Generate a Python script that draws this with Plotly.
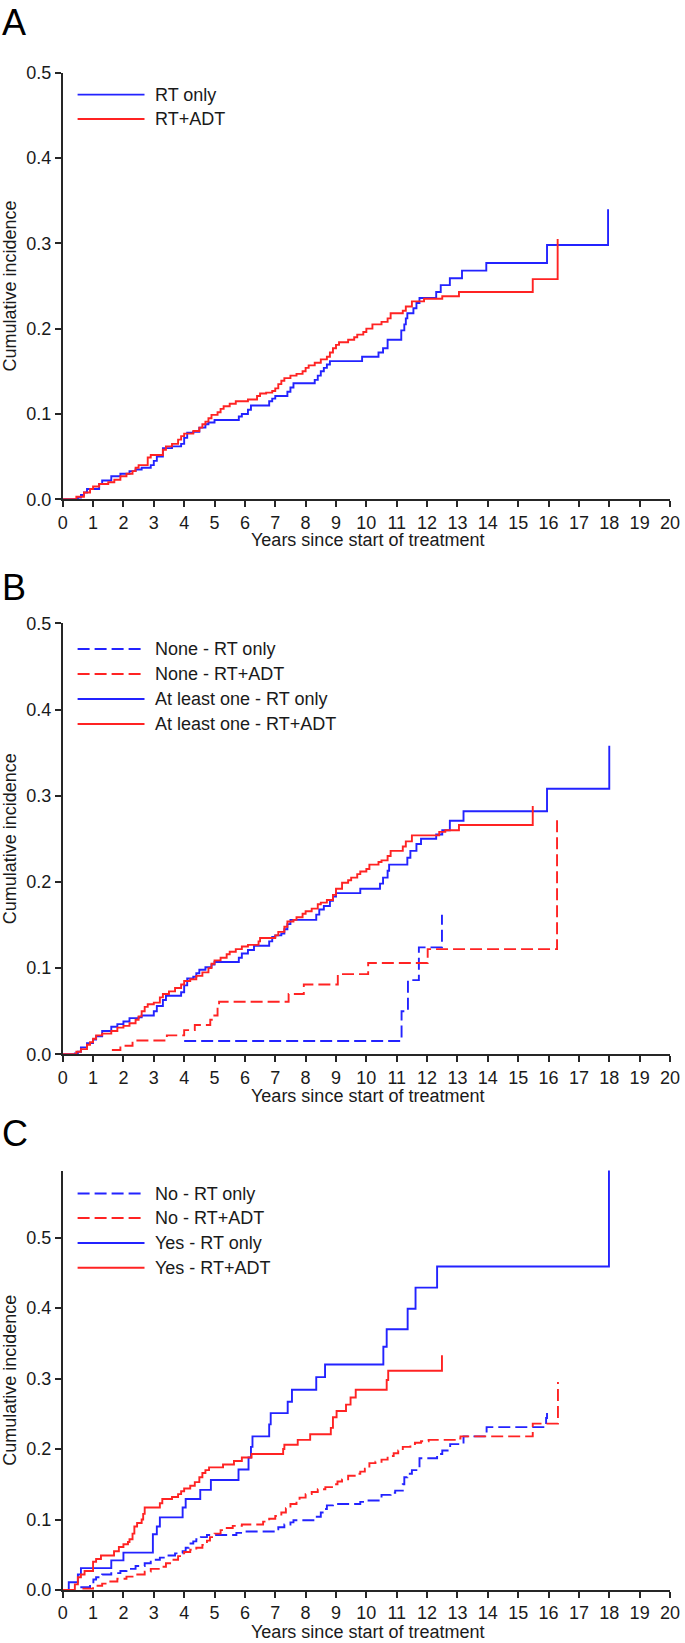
import plotly.graph_objects as go

# ---------------- data ----------------
x_ticks = list(range(0, 21))
y_ticks_ab = [0.0, 0.1, 0.2, 0.3, 0.4, 0.5]
y_ticks_c = [0.0, 0.1, 0.2, 0.3, 0.4, 0.5]

# Panel A
a_rt_x = [0, 0.5, 0.6, 0.7, 0.8, 1.2, 1.3, 1.6, 1.9, 2.2, 2.4, 2.6, 2.9, 3.0, 3.1, 3.3, 3.6, 3.9, 4.0, 4.1,
          4.3, 4.5, 4.7, 4.8, 5.0, 5.8, 5.9, 6.1, 6.2, 6.8, 6.9, 7.0, 7.4, 7.5, 7.6, 8.3, 8.4, 8.5, 8.6, 8.7,
          8.8, 9.86, 10.4, 10.55, 10.7, 11.15, 11.25, 11.3, 11.35, 11.55, 11.65, 11.75, 12.3, 12.45, 12.75,
          13.15, 13.95, 15.95, 17.96]
a_rt_y = [0, 0.002, 0.005, 0.008, 0.012, 0.018, 0.022, 0.027, 0.030, 0.033, 0.035, 0.037, 0.040, 0.045, 0.050,
          0.060, 0.062, 0.065, 0.072, 0.078, 0.079, 0.084, 0.088, 0.090, 0.093, 0.097, 0.100, 0.105, 0.110, 0.115,
          0.118, 0.121, 0.126, 0.131, 0.136, 0.140, 0.145, 0.150, 0.154, 0.158, 0.162, 0.167, 0.172, 0.177, 0.187,
          0.198, 0.205, 0.212, 0.218, 0.224, 0.230, 0.236, 0.243, 0.251, 0.259, 0.268, 0.277, 0.298, 0.340]
a_adt_x = [0, 0.45, 0.7, 0.9, 1.0, 1.2, 1.5, 1.7, 1.9, 2.1, 2.3, 2.4, 2.5, 2.8, 2.9, 3.3, 3.4, 3.6, 3.8, 3.9,
           4.0, 4.3, 4.5, 4.6, 4.7, 4.8, 4.9, 5.1, 5.2, 5.3, 5.5, 5.7, 6.1, 6.4, 6.5, 6.7, 6.9, 7.0, 7.1, 7.2,
           7.3, 7.5, 7.7, 7.9, 8.0, 8.1, 8.3, 8.5, 8.7, 8.8, 8.9, 9.0, 9.1, 9.4, 9.6, 9.7, 9.9, 10.0, 10.2, 10.5,
           10.7, 10.8, 11.2, 11.3, 11.5, 11.9, 12.5, 13.05, 15.48, 16.3]
a_adt_y = [0, 0.003, 0.008, 0.012, 0.015, 0.018, 0.020, 0.023, 0.027, 0.030, 0.033, 0.037, 0.040, 0.049, 0.052,
           0.058, 0.062, 0.065, 0.070, 0.074, 0.077, 0.080, 0.084, 0.088, 0.091, 0.095, 0.099, 0.102, 0.106, 0.109,
           0.112, 0.115, 0.117, 0.121, 0.124, 0.125, 0.127, 0.130, 0.135, 0.139, 0.142, 0.145, 0.147, 0.150, 0.154,
           0.157, 0.160, 0.164, 0.167, 0.172, 0.177, 0.181, 0.184, 0.187, 0.190, 0.193, 0.196, 0.200, 0.205, 0.208,
           0.212, 0.218, 0.221, 0.226, 0.232, 0.235, 0.238, 0.243, 0.258, 0.305]

# Panel B
b_none_rt_x = [4.0, 11.16, 11.37, 11.73, 12.49]
b_none_rt_y = [0.0154, 0.050, 0.086, 0.124, 0.162]
b_none_adt_x = [1.62, 1.9, 2.3, 3.43, 4.0, 4.35, 4.86, 4.95, 5.1, 5.15, 7.44, 7.94, 9.06, 10.06, 12.02, 16.28]
b_none_adt_y = [0.005, 0.010, 0.016, 0.022, 0.028, 0.034, 0.040, 0.045, 0.055, 0.061, 0.070, 0.081, 0.093,
                0.106, 0.122, 0.272]
b_one_rt_x = [0, 0.4, 0.5, 0.6, 0.8, 1.0, 1.1, 1.3, 1.6, 1.8, 2.0, 2.2, 2.5, 2.6, 3.0, 3.1, 3.3, 3.4, 3.9, 4.0,
              4.1, 4.3, 4.4, 4.5, 4.7, 4.9, 5.0, 5.8, 5.9, 6.1, 6.3, 6.8, 6.9, 7.0, 7.2, 7.3, 7.4, 7.5, 8.35, 8.45,
              8.6, 8.8, 8.9, 9.0, 9.8, 10.45, 10.55, 10.7, 10.75, 11.35, 11.45, 11.65, 11.8, 12.3, 12.5, 12.75,
              13.2, 15.95, 18.0]
b_one_rt_y = [0, 0.001, 0.003, 0.008, 0.013, 0.017, 0.021, 0.027, 0.032, 0.035, 0.038, 0.042, 0.043, 0.045, 0.050,
              0.056, 0.063, 0.068, 0.072, 0.080, 0.088, 0.090, 0.094, 0.098, 0.101, 0.104, 0.107, 0.112, 0.117,
              0.121, 0.126, 0.131, 0.136, 0.138, 0.140, 0.145, 0.151, 0.156, 0.162, 0.168, 0.172, 0.178, 0.183,
              0.187, 0.192, 0.198, 0.205, 0.213, 0.220, 0.228, 0.236, 0.244, 0.250, 0.255, 0.260, 0.271, 0.282,
              0.308, 0.358]
b_one_adt_x = [0, 0.45, 0.6, 0.8, 0.9, 1.0, 1.1, 1.3, 1.6, 1.8, 2.0, 2.2, 2.4, 2.5, 2.6, 2.7, 2.8, 3.0, 3.2, 3.3,
               3.5, 3.7, 3.9, 4.0, 4.2, 4.4, 4.6, 4.8, 4.9, 5.0, 5.2, 5.4, 5.5, 5.7, 5.9, 6.1, 6.45, 6.5, 7.0, 7.1,
               7.3, 7.4, 7.6, 7.7, 7.9, 8.0, 8.2, 8.4, 8.5, 8.7, 8.9, 9.0, 9.2, 9.4, 9.5, 9.7, 9.8, 10.0, 10.1,
               10.4, 10.5, 10.7, 10.8, 11.2, 11.3, 11.5, 12.4, 12.6, 13.05, 15.48]
b_one_adt_y = [0, 0.003, 0.006, 0.011, 0.014, 0.018, 0.022, 0.024, 0.027, 0.031, 0.033, 0.036, 0.040, 0.044,
               0.050, 0.055, 0.058, 0.060, 0.066, 0.070, 0.073, 0.077, 0.081, 0.085, 0.087, 0.091, 0.095, 0.100,
               0.105, 0.109, 0.112, 0.116, 0.119, 0.122, 0.125, 0.127, 0.131, 0.135, 0.138, 0.142, 0.148, 0.154,
               0.156, 0.159, 0.163, 0.166, 0.169, 0.174, 0.176, 0.179, 0.185, 0.192, 0.199, 0.202, 0.205, 0.209,
               0.212, 0.215, 0.220, 0.223, 0.225, 0.230, 0.236, 0.241, 0.247, 0.254, 0.258, 0.260, 0.266, 0.288]

# Panel C
c_no_rt_x = [0.58, 0.9, 1.01, 1.1, 1.3, 1.6, 1.9, 2.1, 2.4, 2.7, 2.9, 3.2, 3.4, 3.7, 3.95, 4.05, 4.15, 4.3,
             4.4, 4.55, 4.75, 5.72, 6.0, 6.95, 7.1, 7.3, 7.5, 7.6, 8.32, 8.5, 8.6, 8.7, 8.9, 9.8, 10.0, 10.45,
             10.5, 10.8, 10.95, 11.2, 11.25, 11.35, 11.5, 11.75, 12.33, 12.5, 12.76, 13.2, 13.96, 15.92, 15.95]
c_no_rt_y = [0.004, 0.009, 0.015, 0.018, 0.022, 0.024, 0.027, 0.030, 0.034, 0.038, 0.043, 0.046, 0.049, 0.052,
             0.055, 0.060, 0.066, 0.069, 0.072, 0.075, 0.078, 0.081, 0.083, 0.086, 0.089, 0.093, 0.096, 0.099,
             0.104, 0.110, 0.115, 0.120, 0.122, 0.125, 0.127, 0.131, 0.135, 0.138, 0.141, 0.150, 0.160, 0.165,
             0.170, 0.187, 0.193, 0.198, 0.207, 0.218, 0.231, 0.244, 0.257]
c_no_adt_x = [0.65, 1.0, 1.3, 1.5, 1.8, 2.1, 2.4, 2.7, 2.9, 3.2, 3.4, 3.6, 3.8, 4.0, 4.2, 4.4, 4.6, 4.75, 4.85,
              5.0, 5.2, 5.3, 5.6, 5.9, 6.6, 6.8, 7.0, 7.2, 7.35, 7.5, 7.7, 7.8, 8.0, 8.2, 8.4, 8.65, 8.9, 9.05,
              9.2, 9.4, 9.7, 9.8, 9.95, 10.1, 10.3, 10.5, 10.7, 10.9, 11.05, 11.2, 11.45, 11.6, 11.8, 12.05, 13.0,
              13.1, 15.48, 16.31]
c_no_adt_y = [0.002, 0.006, 0.009, 0.012, 0.016, 0.019, 0.022, 0.026, 0.030, 0.033, 0.038, 0.043, 0.048, 0.054,
              0.057, 0.060, 0.064, 0.070, 0.075, 0.080, 0.085, 0.088, 0.091, 0.093, 0.097, 0.101, 0.105, 0.110,
              0.116, 0.122, 0.126, 0.131, 0.136, 0.139, 0.143, 0.146, 0.150, 0.154, 0.157, 0.162, 0.165, 0.168,
              0.172, 0.180, 0.182, 0.185, 0.190, 0.194, 0.198, 0.203, 0.207, 0.209, 0.211, 0.213, 0.215, 0.218,
              0.236, 0.295]
c_yes_rt_x = [0, 0.2, 0.5, 0.6, 1.6, 2.0, 2.97, 3.1, 3.2, 3.95, 4.05, 4.53, 4.88, 5.79, 6.12, 6.2, 6.25, 6.8, 6.85,
              7.41, 7.55, 8.35, 8.64, 10.56, 10.67, 11.36, 11.62, 12.33, 17.99]
c_yes_rt_y = [0, 0.011, 0.022, 0.031, 0.042, 0.053, 0.079, 0.090, 0.103, 0.117, 0.129, 0.142, 0.156, 0.171, 0.188,
              0.203, 0.218, 0.235, 0.251, 0.267, 0.284, 0.302, 0.320, 0.345, 0.370, 0.399, 0.429, 0.459, 0.605]
c_yes_adt_x = [0, 0.4, 0.5, 0.6, 0.72, 1.0, 1.1, 1.26, 1.69, 1.85, 2.0, 2.15, 2.2, 2.3, 2.36, 2.45, 2.6, 2.65, 2.7,
               3.2, 3.28, 3.6, 3.8, 3.9, 4.0, 4.2, 4.35, 4.5, 4.6, 4.7, 4.82, 5.28, 5.64, 5.9, 6.22, 7.26, 7.3,
               7.74, 8.15, 8.83, 8.9, 9.02, 9.33, 9.48, 9.65, 10.67, 10.72, 12.49]
c_yes_adt_y = [0, 0.008, 0.018, 0.022, 0.027, 0.040, 0.044, 0.049, 0.055, 0.061, 0.065, 0.068, 0.072, 0.080, 0.090,
               0.095, 0.100, 0.108, 0.117, 0.123, 0.129, 0.132, 0.136, 0.140, 0.144, 0.148, 0.153, 0.160, 0.166,
               0.170, 0.174, 0.178, 0.183, 0.188, 0.193, 0.200, 0.206, 0.213, 0.221, 0.230, 0.245, 0.254, 0.263,
               0.273, 0.284, 0.298, 0.311, 0.333]

panel_labels = ["A", "B", "C"]
legend_a = ["RT only", "RT+ADT"]
legend_b = ["None - RT only", "None - RT+ADT", "At least one - RT only", "At least one - RT+ADT"]
legend_c = ["No - RT only", "No - RT+ADT", "Yes - RT only", "Yes - RT+ADT"]
x_title = "Years since start of treatment"
y_title = "Cumulative incidence"

# ---------------- styling ----------------
W, H = 685, 1643
BLUE = "#2323ff"
RED = "#ff2323"
AXC = "#262626"
TXT = "#1a1a1a"
FONT = "Liberation Sans, Arial, sans-serif"
DASH = "12px,5px"
LW = 1.9


def px(xpix):
    return xpix / W


def py(ypix):
    return 1 - ypix / H


X_L, X_R = 62.7, 670.0
panels = [
    dict(top=72.7, bot=499.3, ymax=0.5, rows=[94.6, 119.0], lab=0, lab_anchor="top", xt=540.5),
    dict(top=623.3, bot=1054.3, ymax=0.5, rows=[649.0, 674.0, 699.0, 724.0], lab=587, lab_anchor="middle",
         xt=1095.5),
    dict(top=1170.6, bot=1590.0, ymax=0.595, rows=[1193.5, 1218.0, 1243.0, 1267.7], lab=1133,
         lab_anchor="middle", xt=1632),
]

fig = go.Figure()


def add(xs, ys, color, dashed, idx):
    fig.add_trace(go.Scatter(
        x=xs, y=ys, mode="lines", line=dict(color=color, width=LW, shape="hv",
                                            dash=DASH if dashed else "solid"),
        xaxis="x" if idx == 1 else f"x{idx}", yaxis="y" if idx == 1 else f"y{idx}",
        showlegend=False, hoverinfo="skip"))


add(a_rt_x, a_rt_y, BLUE, False, 1)
add(a_adt_x, a_adt_y, RED, False, 1)

add(b_none_rt_x, b_none_rt_y, BLUE, True, 2)
add(b_none_adt_x, b_none_adt_y, RED, True, 2)
add(b_one_rt_x, b_one_rt_y, BLUE, False, 2)
add(b_one_adt_x, b_one_adt_y, RED, False, 2)

add(c_no_rt_x, c_no_rt_y, BLUE, True, 3)
add(c_no_adt_x, c_no_adt_y, RED, True, 3)
add(c_yes_rt_x, c_yes_rt_y, BLUE, False, 3)
add(c_yes_adt_x, c_yes_adt_y, RED, False, 3)

axis_common = dict(showline=True, linecolor=AXC, linewidth=1.5, ticks="outside", ticklen=6, tickwidth=1.5,
                   tickcolor=AXC, showgrid=False, zeroline=False, automargin=False,
                   tickfont=dict(family=FONT, size=18, color=TXT))

layout = dict(width=W, height=H, margin=dict(l=0, r=0, t=0, b=0), paper_bgcolor="white",
              plot_bgcolor="white", showlegend=False, font=dict(family=FONT, size=18, color=TXT))

shapes = []
annotations = []
legends = [legend_a, legend_b, legend_c]
styles = [
    [(BLUE, False), (RED, False)],
    [(BLUE, True), (RED, True), (BLUE, False), (RED, False)],
    [(BLUE, True), (RED, True), (BLUE, False), (RED, False)],
]

for i, p in enumerate(panels, start=1):
    xk = "xaxis" if i == 1 else f"xaxis{i}"
    yk = "yaxis" if i == 1 else f"yaxis{i}"
    layout[xk] = dict(axis_common, domain=[px(X_L), px(X_R)], range=[0, 20], tickvals=x_ticks,
                      anchor="y" if i == 1 else f"y{i}")
    yt = y_ticks_ab if i < 3 else y_ticks_c
    layout[yk] = dict(axis_common, domain=[py(p["bot"]), py(p["top"])], range=[0, p["ymax"]],
                      tickvals=yt, tickformat=".1f", anchor="x" if i == 1 else f"x{i}",
                      title=dict(text=y_title, standoff=6, font=dict(family=FONT, size=18, color=TXT)))
    # x-axis title, placed just under the tick labels as in the reference
    annotations.append(dict(text=x_title, xref="paper", yref="paper", x=px((X_L + X_R) / 2 + 1), y=py(p["xt"]),
                            xanchor="center", yanchor="middle", showarrow=False,
                            font=dict(family=FONT, size=18, color=TXT)))
    for (txt, (col, dashed)), ry in zip(zip(legends[i - 1], styles[i - 1]), p["rows"]):
        shapes.append(dict(type="line", xref="paper", yref="paper", x0=px(77.6), x1=px(144.5),
                           y0=py(ry), y1=py(ry),
                           line=dict(color=col, width=LW, dash=DASH if dashed else "solid")))
        annotations.append(dict(text=txt, xref="paper", yref="paper", x=px(153), y=py(ry),
                                xanchor="left", yanchor="middle", showarrow=False,
                                font=dict(family=FONT, size=18, color=TXT)))
    annotations.append(dict(text=panel_labels[i - 1], xref="paper", yref="paper", x=px(0), y=py(p["lab"]),
                            xanchor="left", yanchor=p["lab_anchor"], showarrow=False,
                            font=dict(family=FONT, size=36, color="black")))

layout["shapes"] = shapes
layout["annotations"] = annotations
fig.update_layout(**layout)
fig.write_html("out.html", config={"displayModeBar": False},
               post_script="document.body.style.margin='0';document.body.style.padding='0';"
                           "document.body.style.overflow='hidden';")
